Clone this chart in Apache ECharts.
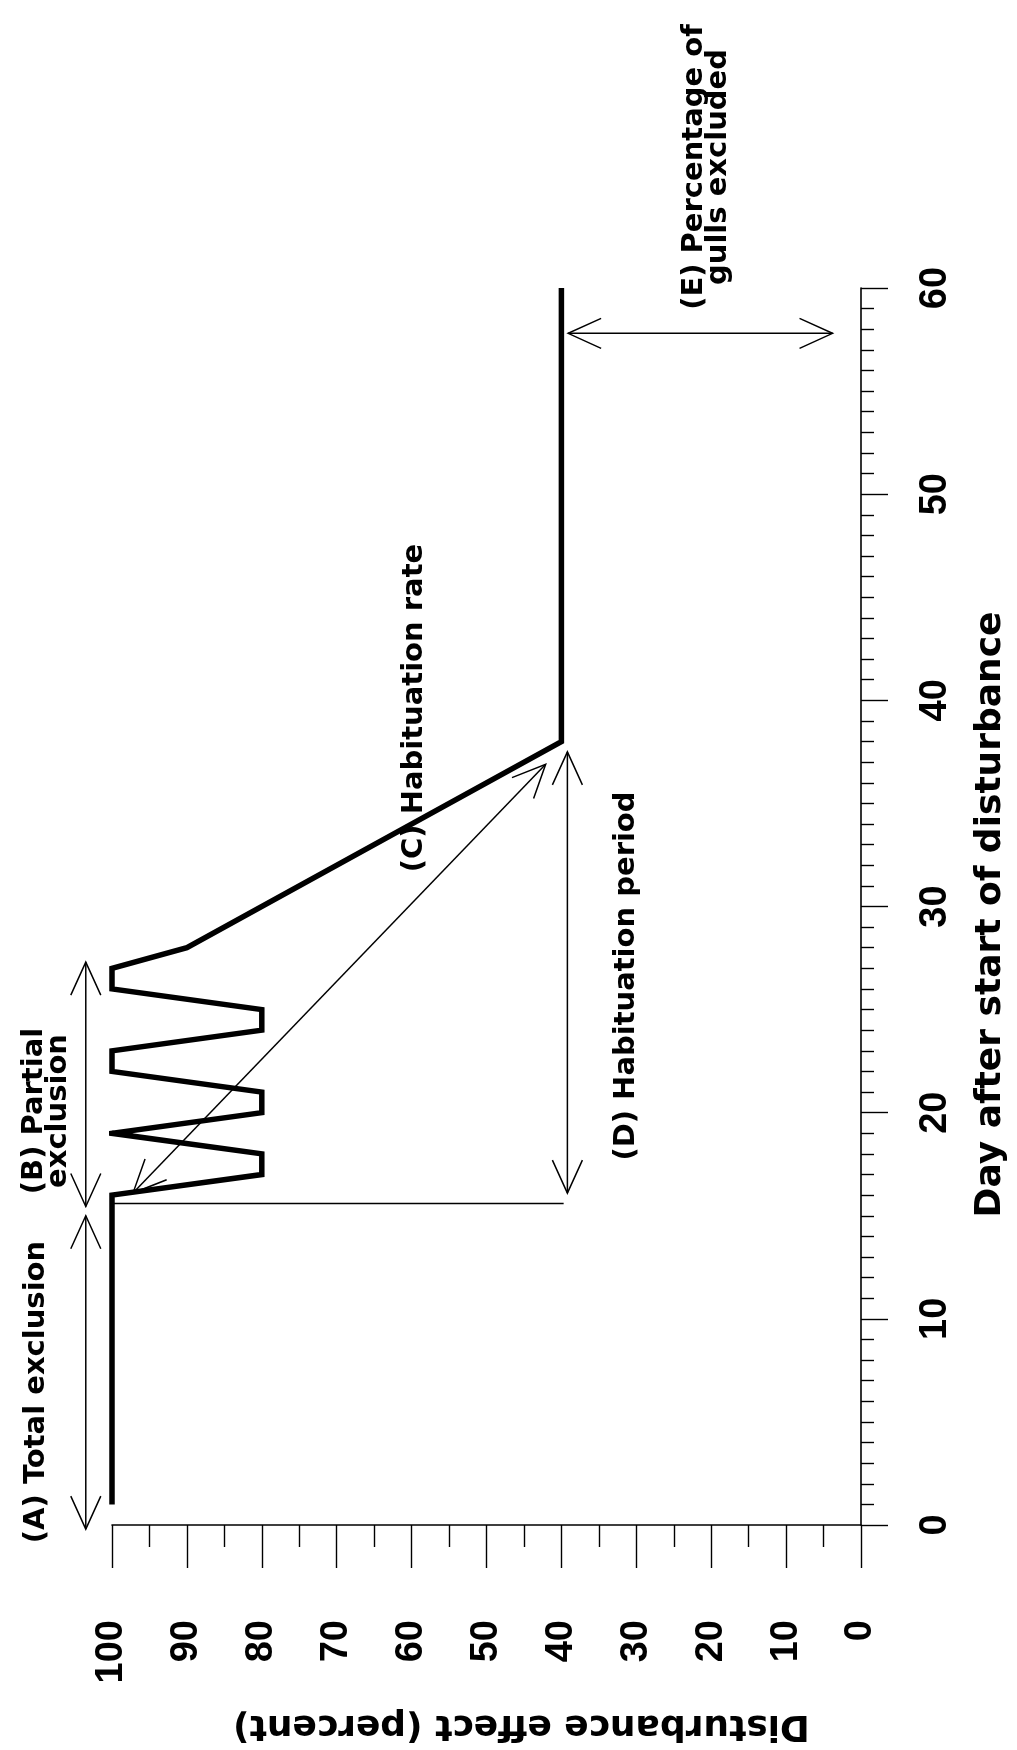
<!DOCTYPE html>
<html>
<head>
<meta charset="utf-8">
<script src="https://cdn.jsdelivr.net/npm/echarts@6/dist/echarts.min.js"></script>
<style>
html,body{margin:0;padding:0;background:#ffffff;}
#chart{width:1017px;height:1750px;}
</style>
</head>
<body>
<div id="chart"></div>
<script>
// ---- data ----
// response curve: day after start of disturbance vs disturbance effect (%)
const curveDay    = [1, 16, 17, 18, 19, 20, 21, 22, 23, 24, 25, 26, 27, 28, 38, 60];
const curveEffect = [100, 100, 80, 80, 100, 80, 80, 100, 100, 80, 80, 100, 100, 90, 40, 40];

// annotation arrows: [effectStart, dayStart, effectEnd, dayEnd, headAtStart, headAtEnd]
const arrowA = [103.5, -0.2, 103.5, 15.0, 1, 1];   // (A) total exclusion
const arrowB = [103.5, 15.45, 103.5, 27.3, 1, 1];  // (B) partial exclusion
const arrowC = [97.2, 16.1, 42.1, 36.9, 1, 1];     // (C) habituation rate
const arrowD = [39.2, 16.1, 39.2, 37.5, 1, 1];     // (D) habituation period
const arrowE = [39.1, 57.8, 3.8, 57.8, 1, 1];      // (E) percentage excluded
const baseRule = [100, 15.6, 39.7, 15.6, 0, 0];    // reference line at start of habituation

const annotationTexts = {
  A: '(A) Total exclusion',
  B: '(B) Partial\nexclusion',
  C: '(C) Habituation rate',
  D: '(D) Habituation period',
  E: '(E) Percentage of\ngulls excluded'
};
const xTitle = 'Disturbance effect (percent)';
const yTitle = 'Day after start of disturbance';

// ---- chart ----
const chart = echarts.init(document.getElementById('chart'), null, {renderer: 'canvas'});
const TXT = '"DejaVu Sans", "Liberation Sans", sans-serif';
const NUM = '"Liberation Sans", Arial, sans-serif';

const curveData = curveDay.map((d, i) => [curveEffect[i], d]);
const arrowData = [arrowA, arrowB, arrowC, arrowD, arrowE, baseRule];

function renderArrow(params, api) {
  const p1 = api.coord([api.value(0), api.value(1)]);
  const p2 = api.coord([api.value(2), api.value(3)]);
  const children = [{
    type: 'line',
    shape: {x1: p1[0], y1: p1[1], x2: p2[0], y2: p2[1]},
    style: {stroke: '#000', lineWidth: 1.5}
  }];
  const L = 33, W = 15;
  function head(tip, from) {
    let dx = tip[0] - from[0], dy = tip[1] - from[1];
    const len = Math.sqrt(dx * dx + dy * dy) || 1;
    dx /= len; dy /= len;
    const bx = tip[0] - dx * L, by = tip[1] - dy * L;
    const nx = -dy, ny = dx;
    children.push({
      type: 'polyline',
      shape: {points: [[bx + nx * W, by + ny * W], tip, [bx - nx * W, by - ny * W]]},
      style: {stroke: '#000', lineWidth: 1.5, fill: null}
    });
  }
  if (api.value(4)) head(p1, p2);
  if (api.value(5)) head(p2, p1);
  return {type: 'group', children: children};
}

function rotText(x, y, text, size, lh) {
  return {
    type: 'text', x: x, y: y, rotation: Math.PI / 2, z: 10,
    style: {
      text: text, fill: '#000',
      font: 'bold ' + size + 'px ' + TXT,
      fontWeight: 'bold', fontSize: size, fontFamily: TXT,
      lineHeight: lh || size,
      align: 'center', verticalAlign: 'middle',
      textAlign: 'center', textVerticalAlign: 'middle'
    }
  };
}

const option = {
  backgroundColor: '#ffffff',
  animation: false,
  grid: {left: 112, right: 143, top: 288, bottom: 225, containLabel: false},
  xAxis: {
    type: 'value', min: 0, max: 100, interval: 10, inverse: true, position: 'bottom',
    name: xTitle, nameLocation: 'middle', nameRotate: 180, nameGap: 182,
    nameTextStyle: {fontFamily: TXT, fontWeight: 'bold', fontSize: 36, color: '#000', padding: [0, 70, 0, 0]},
    axisLine: {show: true, lineStyle: {color: '#000', width: 1.6}},
    axisTick: {show: true, inside: false, length: 43, lineStyle: {color: '#000', width: 1.4}},
    minorTick: {show: true, splitNumber: 2, length: 22, lineStyle: {color: '#000', width: 1.4}},
    axisLabel: {rotate: 90, margin: 95, fontFamily: NUM, fontWeight: 'bold', fontSize: 38, color: '#000', hideOverlap: false},
    splitLine: {show: false}, minorSplitLine: {show: false}
  },
  yAxis: {
    type: 'value', min: 0, max: 60, interval: 10, position: 'right',
    name: yTitle, nameLocation: 'middle', nameRotate: 90, nameGap: 112,
    nameTextStyle: {fontFamily: TXT, fontWeight: 'bold', fontSize: 36, color: '#000', padding: [0, 16, 0, 0]},
    axisLine: {show: true, lineStyle: {color: '#000', width: 1.6}},
    axisTick: {show: true, inside: false, length: 27, lineStyle: {color: '#000', width: 1.4}},
    minorTick: {show: true, splitNumber: 10, length: 13, lineStyle: {color: '#000', width: 1.4}},
    axisLabel: {rotate: 90, margin: 56, fontFamily: NUM, fontWeight: 'bold', fontSize: 38, color: '#000', hideOverlap: false},
    splitLine: {show: false}, minorSplitLine: {show: false}
  },
  series: [
    {
      type: 'line', name: 'Disturbance effect', data: curveData,
      symbol: 'none', clip: false,
      lineStyle: {color: '#000', width: 5.5, join: 'miter', miterLimit: 10, cap: 'butt'},
      z: 5
    },
    {
      type: 'custom', name: 'annotations', data: arrowData, clip: false,
      renderItem: renderArrow, z: 4,
      encode: {x: [0, 2], y: [1, 3]}
    }
  ],
  graphic: [
    rotText(36, 1392, annotationTexts.A, 29),
    rotText(46, 1111, annotationTexts.B, 29, 24),
    rotText(414, 708, annotationTexts.C, 29),
    rotText(626, 976, annotationTexts.D, 29),
    rotText(706, 167, annotationTexts.E, 29, 24)
  ]
};
chart.setOption(option);
</script>
</body>
</html>
